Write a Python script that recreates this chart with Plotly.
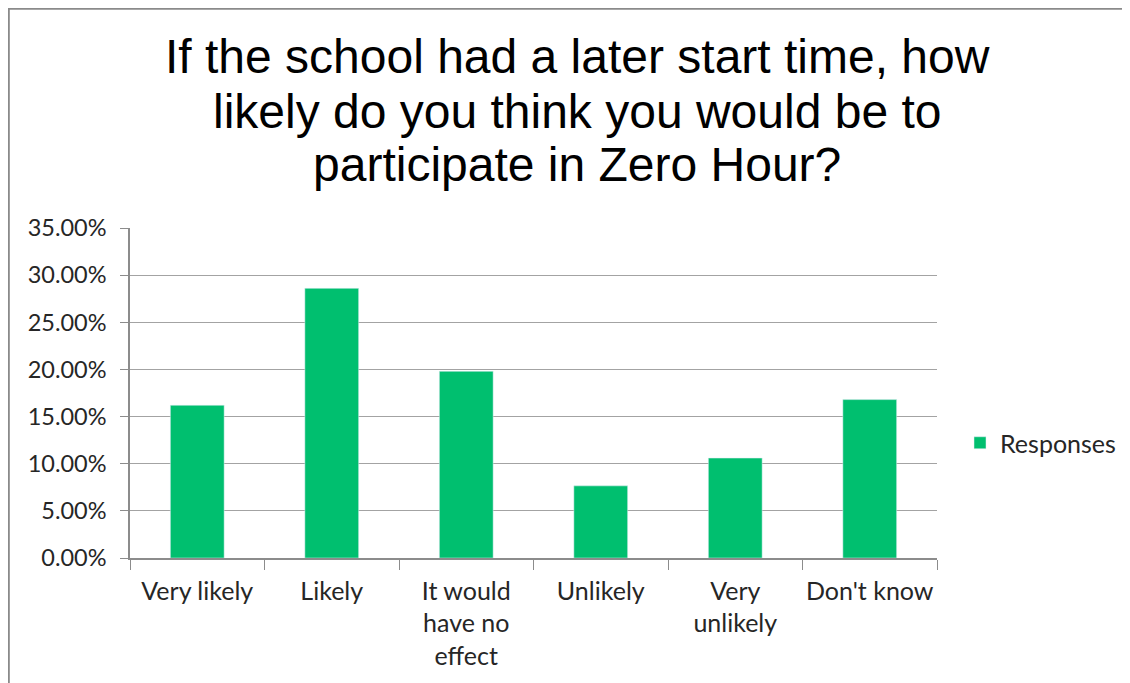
import plotly.graph_objects as go

categories = ["Very likely", "Likely", "It would<br>have no<br>effect", "Unlikely", "Very<br>unlikely", "Don't know"]
responses = [0.162, 0.286, 0.198, 0.0765, 0.106, 0.168]
title_lines = ["If the school had a later start time, how",
               "likely do you think you would be to",
               "participate in Zero Hour?"]
series_name = "Responses"

OFF = 8  # page body margin
W, H = 1130, 683
ML, MR, MT, MB = 122, 201, 220, 133
PW, PH = W - ML - MR, H - MT - MB


def px_x(x):
    return (x - OFF - ML) / PW


def px_y(y):
    return (H - MB - (y - OFF)) / PH


fig = go.Figure()
fig.add_trace(go.Bar(
    x=categories, y=responses, name=series_name,
    marker=dict(color="#00BF6F"),
    showlegend=True,
))

title_centers = [56.7, 111.3, 164.2]
annotations = []
for line, yc in zip(title_lines, title_centers):
    annotations.append(dict(
        text=line, xref="paper", yref="paper",
        x=px_x(577), y=px_y(yc), xanchor="center", yanchor="middle",
        showarrow=False,
        font=dict(family="Liberation Sans, Arial, sans-serif", size=48, color="#000000"),
    ))

bx0 = (0.8 - ML) / PW
by0 = (H - MB - 0.8) / PH
fig.update_layout(
    width=W, height=H,
    margin=dict(l=ML, r=MR, t=MT, b=MB),
    paper_bgcolor="white", plot_bgcolor="white",
    bargap=0.6,
    font=dict(family="Lato, Carlito, Calibri, sans-serif", size=23, color="#262626"),
    annotations=annotations,
    legend=dict(x=px_x(960), y=px_y(443), xanchor="left", yanchor="middle",
                font=dict(size=25, color="#262626"), bgcolor="rgba(0,0,0,0)"),
    shapes=[dict(type="path", xref="paper", yref="paper",
                 path=f"M {bx0} {px_y(H + 40)} L {bx0} {by0} L {px_x(W + 40)} {by0}",
                 line=dict(color="#8a8a8a", width=2), layer="above")],
)

fig.update_yaxes(
    range=[0, 0.35], dtick=0.05, tickformat=".2%",
    showgrid=True, gridcolor="#a3a3a3", gridwidth=1.2,
    showline=True, linecolor="#8c8c8c", linewidth=1.5,
    ticks="outside", ticklen=8, tickcolor="#8c8c8c", tickwidth=1.2,
    zeroline=False, ticklabelstandoff=9,
    tickfont=dict(size=23.5),
)
fig.update_xaxes(
    showline=True, linecolor="#8c8c8c", linewidth=1.5,
    ticks="outside", ticklen=10, tickcolor="#8c8c8c", tickwidth=1.2,
    tickson="boundaries", showgrid=False, tickangle=0,
    ticklabelstandoff=10, tickfont=dict(size=25),
)

fig.write_html("out.html")
